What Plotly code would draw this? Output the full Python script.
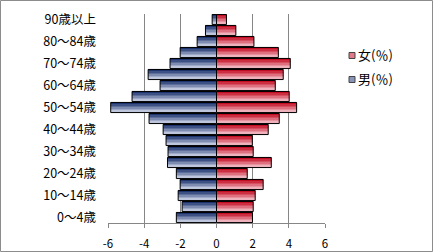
import plotly.graph_objects as go

categories = ["0～4歳", "5～9歳", "10～14歳", "15～19歳", "20～24歳", "25～29歳",
              "30～34歳", "35～39歳", "40～44歳", "45～49歳", "50～54歳", "55～59歳",
              "60～64歳", "65～69歳", "70～74歳", "75～79歳", "80～84歳", "85～89歳",
              "90歳以上"]
male = [2.22, 1.90, 2.12, 2.01, 2.22, 2.71, 2.68, 2.79, 2.95, 3.73,
        5.85, 4.67, 3.12, 3.78, 2.57, 2.01, 1.07, 0.61, 0.24]
female = [1.99, 2.03, 2.14, 2.58, 1.70, 3.03, 2.03, 1.98, 2.86, 3.47,
          4.43, 4.02, 3.25, 3.69, 4.08, 3.42, 2.07, 1.07, 0.55]
x_tickvals = [-6, -4, -2, 0, 2, 4, 6]
x_ticktext = ["-6", "-4", "-2", "0", "2", "4", "6"]
y_tickvals = categories[::2]
series_names = ["女(％)", "男(％)"]

W, H = 433, 252
ML, MR, MT, MB = 108, 108, 14, 29
PW, PH = W - ML - MR, H - MT - MB
FONT = "Noto Sans CJK JP, Noto Sans, sans-serif"


def px_x(p):
    return (p - ML) / PW


def px_y(p):
    return (H - MB - p) / PH


def lerp(c1, c2, t):
    return "rgb(%d,%d,%d)" % tuple(round(a + (b - a) * t) for a, b in zip(c1, c2))


blue_dark, blue_light = (30, 52, 110), (222, 227, 245)
red_dark, red_light = (196, 14, 36), (248, 210, 218)

BW = 0.92
N = 7
fig = go.Figure()
male_x = [-v for v in male]
for vals, cd, cl in [(male_x, blue_dark, blue_light), (female, red_dark, red_light)]:
    for i in range(N):
        t = i / (N - 1)  # 0 bottom (light) -> 1 top (dark)
        fig.add_trace(go.Bar(
            y=categories, x=vals, orientation="h",
            width=BW / N, offset=-BW / 2 + i * BW / N,
            marker=dict(color=lerp(cl, cd, t), line=dict(width=0)),
            showlegend=False, hoverinfo="skip"))
    fig.add_trace(go.Bar(
        y=categories, x=vals, orientation="h",
        width=BW, offset=-BW / 2,
        marker=dict(color="rgba(0,0,0,0)", line=dict(color="#000000", width=1)),
        showlegend=False))

fig.update_layout(
    width=W, height=H, autosize=False,
    margin=dict(l=ML, r=MR, t=MT, b=MB, pad=0, autoexpand=False),
    paper_bgcolor="white", plot_bgcolor="white",
    barmode="overlay", showlegend=False,
    font=dict(family=FONT, size=12, color="black"),
)
fig.update_xaxes(
    range=[-6, 6], tickvals=x_tickvals, ticktext=x_ticktext,
    showgrid=True, gridcolor="#868686", gridwidth=1, zeroline=False,
    showline=True, linecolor="#868686", linewidth=1,
    ticks="outside", ticklen=4, tickcolor="#868686",
    ticklabelstandoff=6, automargin=False,
    tickfont=dict(size=11.5), fixedrange=True,
)
fig.update_yaxes(
    type="category", categoryorder="array", categoryarray=categories,
    range=[-0.5, len(categories) - 0.5],
    tickvals=y_tickvals, ticks="", showgrid=False, zeroline=False,
    showline=False, ticklabelstandoff=11, tickfont=dict(size=12.5),
    automargin=False, fixedrange=True,
)

# outer border
fig.add_shape(type="rect", xref="paper", yref="paper",
              x0=px_x(0.5), x1=px_x(W - 0.5), y0=px_y(H - 0.5), y1=px_y(0.5),
              line=dict(color="#8c8c8c", width=1), fillcolor="rgba(0,0,0,0)", layer="above")

# legend
legend_items = [(series_names[0], red_dark, red_light, 55), (series_names[1], blue_dark, blue_light, 79)]
for name, cd, cl, cy in legend_items:
    fig.add_shape(type="rect", xref="paper", yref="paper",
                  x0=px_x(349), x1=px_x(355), y0=px_y(cy + 3.5), y1=px_y(cy - 2.5),
                  fillcolor=lerp(cl, cd, 0.45), line=dict(color="#444444", width=1))
    fig.add_annotation(text=name, xref="paper", yref="paper",
                       x=px_x(356), y=px_y(cy - 1), xanchor="left", yanchor="middle",
                       showarrow=False, font=dict(size=13, family=FONT))

fig.write_html("out.html")
